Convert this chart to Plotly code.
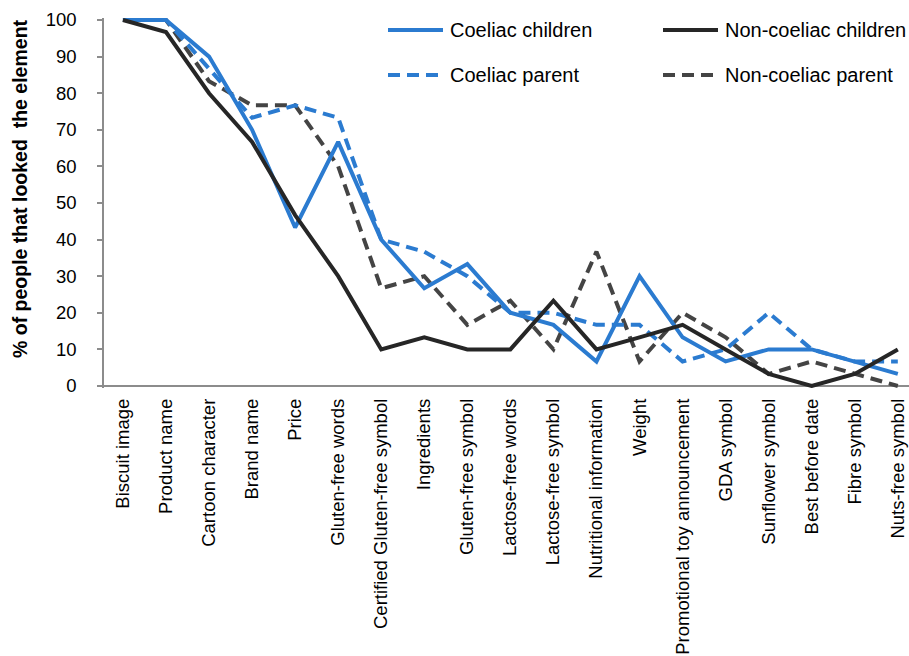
import plotly.graph_objects as go

# Packaging elements shown on the biscuit pack
elements = [
    "Biscuit image", "Product name", "Cartoon character", "Brand name", "Price",
    "Gluten-free words", "Certified Gluten-free symbol", "Ingredients",
    "Gluten-free symbol", "Lactose-free words", "Lactose-free symbol",
    "Nutritional information", "Weight", "Promotional toy announcement",
    "GDA symbol", "Sunflower symbol", "Best before date", "Fibre symbol",
    "Nuts-free symbol",
]

# % of participants who looked at each element
coeliac_children = [100, 100, 90, 70, 43.3, 66.7, 40, 26.7, 33.3, 20, 16.7,
                    6.7, 30, 13.3, 6.7, 10, 10, 6.7, 3.3]
non_coeliac_children = [100, 96.7, 80, 66.7, 46.7, 30, 10, 13.3, 10, 10, 23.3,
                        10, 13.3, 16.7, 10, 3.3, 0, 3.3, 10]
coeliac_parent = [100, 100, 86.7, 73.3, 76.7, 73.3, 40, 36.7, 30, 20, 20,
                  16.7, 16.7, 6.7, 10, 20, 10, 6.7, 6.7]
non_coeliac_parent = [100, 100, 83.3, 76.7, 76.7, 60, 26.7, 30, 16.7, 23.3, 10,
                      36.7, 6.7, 20, 13.3, 3.3, 6.7, 3.3, 0]

series_names = ["Coeliac children", "Non-coeliac children",
                "Coeliac parent", "Non-coeliac parent"]
series_values = [coeliac_children, non_coeliac_children,
                 coeliac_parent, non_coeliac_parent]

BLUE = "#2B7BD0"
BLACK = "#262626"
GREY = "#444444"
DASH = "12px,7px"
LW = 4
styles = [
    dict(color=BLUE, width=LW, dash="solid"),
    dict(color=BLACK, width=LW, dash="solid"),
    dict(color=BLUE, width=LW, dash=DASH),
    dict(color=GREY, width=LW, dash=DASH),
]

FONT = "Arial, 'Liberation Sans', sans-serif"

fig = go.Figure()
draw_order = [3, 2, 0, 1]
for i in draw_order:
    fig.add_trace(go.Scatter(
        x=elements, y=series_values[i], name=series_names[i],
        mode="lines", line=styles[i], showlegend=False,
    ))

# Legend drawn as line samples plus labels, two rows of two entries
W_PLOT = 805.0
H_PLOT = 370.0
def px_x(p):
    return (p - 104) / W_PLOT
def px_y(p):
    return (388 - p) / H_PLOT

legend_pos = [(388, 30), (663, 30), (388, 75), (663, 75)]
for i, (lx, ly) in enumerate(legend_pos):
    st = styles[i]
    fig.add_shape(type="line", xref="paper", yref="paper",
                  x0=px_x(lx), x1=px_x(lx + 55), y0=px_y(ly), y1=px_y(ly),
                  line=dict(color=st["color"], width=st["width"], dash=st["dash"]))
    fig.add_annotation(xref="paper", yref="paper", x=px_x(lx + 60), y=px_y(ly),
                       text=series_names[i], showarrow=False,
                       xanchor="left", yanchor="middle",
                       font=dict(family=FONT, size=20, color="#000000"))

# Y axis title
fig.add_annotation(xref="paper", yref="paper", x=px_x(20), y=px_y(189),
                   text="% of people that looked \u00a0the element",
                   textangle=-90, showarrow=False,
                   xanchor="center", yanchor="middle",
                   font=dict(family=FONT, size=19.5, color="#000000", weight="bold"))

fig.update_layout(
    width=909, height=656,
    margin=dict(l=104, r=0, t=18, b=268),
    paper_bgcolor="white", plot_bgcolor="white",
    font=dict(family=FONT, color="#000000"),
    xaxis=dict(
        type="category", range=[-0.44, 18.26],
        showgrid=False, showline=False, zeroline=False, ticks="",
        tickangle=-90, tickfont=dict(size=18.5, color="#000000"),
        ticklabelstandoff=6,
    ),
    yaxis=dict(
        range=[-0.55, 100.55], tickmode="linear", tick0=0, dtick=10,
        showgrid=False, showline=True, linecolor="#8C8C8C", linewidth=1.5,
        ticks="outside", ticklen=5, tickcolor="#8C8C8C", tickwidth=1.5,
        zeroline=True, zerolinecolor="#8C8C8C", zerolinewidth=2,
        tickfont=dict(size=18.5, color="#000000"),
        ticklabelstandoff=17,
    ),
)

fig.write_html("out.html")
